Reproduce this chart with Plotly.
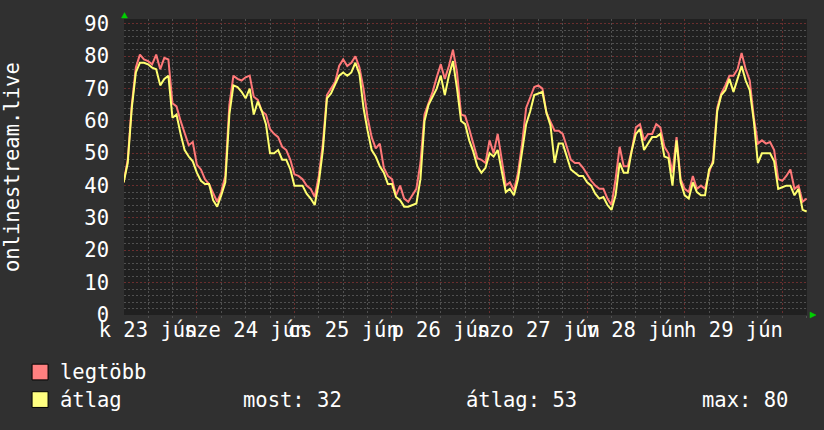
import plotly.graph_objects as go
import pandas as pd

# ---------------- data (hourly) ----------------
times = pd.date_range("2020-06-23 06:00", periods=169, freq="h")

legtobb = [
    41, 48, 65, 76.5, 80.5, 79, 78.5, 77.5, 80.5, 76,
    79.5, 79, 65.5, 64.5, 60, 56, 52.5, 53.5, 46.5, 45,
    42, 40.5, 37.5, 35, 38, 43, 65, 74, 73, 72.5,
    73.5, 74, 67.5, 66.5, 63, 62, 57.5, 56, 55, 52,
    51, 48, 43.5, 43, 42, 40, 39, 36.5, 43, 53,
    68, 70, 72, 77, 79, 77, 78, 80, 76.5, 70,
    61, 55, 51.5, 53, 45.5, 43, 42, 37, 40, 36,
    35, 37, 39, 47, 62, 65.5, 69, 73.5, 77.5, 73,
    77, 82, 75, 62, 61.5, 57.5, 53, 48.5, 48, 47,
    54, 50, 56, 47.5, 40, 41, 38.5, 44, 53, 64,
    67, 70.5, 71, 70, 62.5, 60, 57, 57, 56, 52,
    48, 47, 47, 45.5, 43.5, 41.5, 40, 39, 39, 36,
    34, 42, 52, 46, 46, 51, 58, 59, 54, 56,
    56, 59, 58, 52, 50, 44, 55, 42, 39, 38,
    43, 39, 40, 39, 44, 48, 64, 68.5, 71, 74,
    74, 76, 81, 76, 72.5, 61, 53, 54, 53, 53.5,
    51, 42, 41.5, 43, 45, 39, 40, 35, 36,
]

atlag = [
    41, 47, 64, 75, 78, 78, 77.5, 76.5, 76, 71,
    73, 74, 61, 62, 56, 51, 49, 47.5, 44, 41.5,
    40.5, 40.5, 35.5, 33.5, 37, 41, 62, 71, 70.5, 69,
    67, 70, 62, 66, 63, 59, 50, 50, 51, 48,
    48, 45, 40, 40, 40, 37.5, 36, 34, 41, 51,
    67, 68.5, 71, 74, 75, 74, 75, 78, 74.5, 64,
    57, 51, 49, 46, 44, 40.5, 40.5, 36.5, 35.5, 33.5,
    33.5, 34, 34.5, 42, 60, 65, 67.5, 70, 74, 68,
    74, 78.5, 70, 60, 59, 54, 50.5, 46, 44, 45.5,
    50, 49, 51, 45, 38, 39, 37, 42, 51, 59,
    63, 68, 68.5, 69, 62.5, 58.5, 47, 53, 53, 49,
    45, 44, 43, 43, 41, 40, 37.5, 36, 36.5, 34,
    32.5, 37, 47, 44, 44, 51, 56, 57.5, 51, 53,
    55, 55, 56, 49, 48.5, 40, 54, 41, 37, 36,
    41, 38, 37, 37, 45, 47, 63, 68, 69.5, 73,
    69, 73, 77, 72.5, 69.5, 60, 47, 50, 50, 50,
    47.5, 39, 39.5, 40, 40, 37, 39, 32.5, 32,
]

label_times = pd.date_range("2020-06-23 12:00", periods=7, freq="D")
day_labels = ["k 23 jún", "sze 24 jún", "cs 25 jún", "p 26 jún", "szo 27 jún", "v 28 jún", "h 29 jún"]
midnights = pd.date_range("2020-06-24 00:00", periods=7, freq="D")
y_ticks = list(range(0, 91, 10))

series_names = ["legtöbb", "átlag"]
stat_names = ["most", "átlag", "max"]
stat_values = [32, 53, 80]

# ---------------- style ----------------
FONT = "DejaVu Sans Mono"
FS = 20.5
BG = "#303030"
PLOT_BG = "#202020"
MINOR = "#505050"
MAJOR = "#6a2e2e"
DASH = "2px,2px"
RED = "#ff7878"
YEL = "#ffff70"

W, H = 824, 430
L, R, T, B = 124, 807.5, 14, 315


def px(x):
    return (x - L) / (R - L)


def py(y):
    return (B - y) / (B - T)


x_range = [pd.Timestamp("2020-06-23 06:05"), pd.Timestamp("2020-06-30 06:05")]

fig = go.Figure()
fig.add_trace(go.Scatter(x=times, y=legtobb, mode="lines", name=series_names[0],
                         line=dict(color=RED, width=2), hoverinfo="skip"))
fig.add_trace(go.Scatter(x=times, y=atlag, mode="lines", name=series_names[1],
                         line=dict(color=YEL, width=2), hoverinfo="skip"))
# helper (empty) trace so the label axis is drawn
fig.add_trace(go.Scatter(x=[], y=[], xaxis="x2", showlegend=False, hoverinfo="skip"))

fig.update_layout(
    width=W, height=H, autosize=False,
    margin=dict(l=L, r=W - R, t=T, b=H - B, pad=0),
    paper_bgcolor=BG, plot_bgcolor=PLOT_BG,
    showlegend=False,
    font=dict(family=FONT, size=FS, color="white"),
    xaxis=dict(
        type="date", range=x_range,
        tickmode="array", tickvals=midnights, ticktext=[""] * len(midnights),
        showticklabels=False,
        showgrid=True, gridcolor=MAJOR, griddash=DASH, gridwidth=1,
        ticks="outside", ticklen=3, tickcolor=MAJOR,
        minor=dict(dtick=6 * 3600 * 1000, tick0="2020-06-23 00:00", showgrid=True,
                   gridcolor=MINOR, griddash=DASH, gridwidth=1,
                   ticks="outside", ticklen=2, tickcolor=MINOR),
        zeroline=False, showline=False, fixedrange=True,
    ),
    xaxis2=dict(
        type="date", range=x_range, overlaying="x", side="bottom", anchor="y",
        tickmode="array", tickvals=label_times, ticktext=day_labels,
        tickangle=0, showgrid=False, ticks="", zeroline=False,
        tickfont=dict(family=FONT, size=FS, color="white"),
        fixedrange=True,
    ),
    yaxis=dict(
        range=[0, 91.52], tickmode="array", tickvals=y_ticks,
        ticktext=[str(v) for v in y_ticks],
        showgrid=True, gridcolor=MAJOR, griddash=DASH, gridwidth=1,
        minor=dict(dtick=2, tick0=0, showgrid=True, gridcolor=MINOR, griddash=DASH, gridwidth=1),
        zeroline=False, showline=False, ticks="", ticklabelstandoff=14,
        tickfont=dict(family=FONT, size=FS, color="white"),
        fixedrange=True,
    ),
)

annotations = [
    dict(text="onlinestream.live", x=px(12), y=0.5, xref="paper", yref="paper",
         textangle=-90, showarrow=False, xanchor="center", yanchor="middle",
         font=dict(family=FONT, size=FS, color="white")),
    dict(text=series_names[0], x=px(58), y=py(373), xref="paper", yref="paper",
         showarrow=False, xanchor="left", yanchor="middle",
         font=dict(family=FONT, size=FS, color="white")),
    dict(text=series_names[1], x=px(58), y=py(401), xref="paper", yref="paper",
         showarrow=False, xanchor="left", yanchor="middle",
         font=dict(family=FONT, size=FS, color="white")),
]
stat_x = [241, 464, 700]
for name, val, sx in zip(stat_names, stat_values, stat_x):
    annotations.append(dict(text=f"{name}: {val}", x=px(sx), y=py(401), xref="paper", yref="paper",
                            showarrow=False, xanchor="left", yanchor="middle",
                            font=dict(family=FONT, size=FS, color="white")))
fig.update_layout(annotations=annotations)

shapes = [
    dict(type="rect", xref="paper", yref="paper", x0=px(32), x1=px(48), y0=py(381), y1=py(365),
         fillcolor="#ff8080", line=dict(color="black", width=1)),
    dict(type="rect", xref="paper", yref="paper", x0=px(32), x1=px(48), y0=py(409), y1=py(393),
         fillcolor="#ffff80", line=dict(color="black", width=1)),
    # axis arrows
    dict(type="path", xref="paper", yref="paper",
         path=f"M {px(121.5)},{py(13)} L {px(127.5)},{py(13)} L {px(124.5)},{py(7.5)} Z",
         fillcolor="#00d000", line=dict(color="#00d000", width=0.5)),
    dict(type="path", xref="paper", yref="paper",
         path=f"M {px(810.5)},{py(312)} L {px(810.5)},{py(318)} L {px(816.5)},{py(315)} Z",
         fillcolor="#00d000", line=dict(color="#00d000", width=0.5)),
]
fig.update_layout(shapes=shapes)

fig.write_html("out.html", config={"displayModeBar": False, "staticPlot": True})
